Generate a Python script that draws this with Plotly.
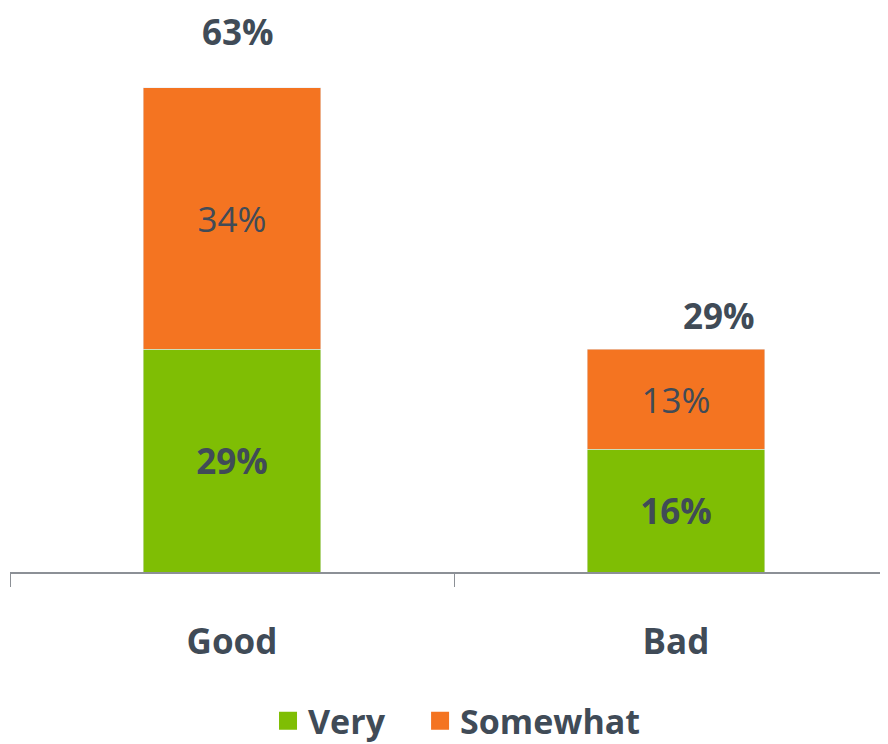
import plotly.graph_objects as go

categories = ["Good", "Bad"]
very = [29, 16]
somewhat = [34, 13]
totals = [63, 29]
series_names = ["Very", "Somewhat"]

TXT = "#404b57"
GREEN = "#7fbe04"
ORANGE = "#f47421"
FONT = "Open Sans"
FS = 35

fig = go.Figure()
fig.add_trace(go.Bar(
    x=categories, y=very, name=series_names[0], marker_color=GREEN,
    text=[f"<b>{v}%</b>" for v in very], textposition="inside",
    insidetextanchor="middle", textangle=0, showlegend=False,
    textfont=dict(family=FONT, size=FS, color=TXT), width=0.4,
))
fig.add_trace(go.Bar(
    x=categories, y=somewhat, name=series_names[1], marker_color=ORANGE,
    text=[f"{v}%" for v in somewhat], textposition="inside",
    insidetextanchor="middle", textangle=0, showlegend=False,
    textfont=dict(family=FONT, size=FS, color=TXT), width=0.4,
))
# legend entries with larger square swatches, one legend per entry for spacing
for name, col, lg in zip(series_names, [GREEN, ORANGE], ["legend", "legend2"]):
    fig.add_trace(go.Scatter(
        x=[None], y=[None], mode="markers", name=f"<b>{name}</b>",
        marker=dict(symbol="square", size=20, color=col, line=dict(color=col, width=2)),
        showlegend=True, legend=lg,
    ))

shifts = [(6, 56), (43, 34)]
for c, t, (dx, dy) in zip(categories, totals, shifts):
    fig.add_annotation(x=c, y=t, text=f"<b>{t}%</b>", showarrow=False,
                       xshift=dx, yshift=dy, yanchor="middle", borderpad=0,
                       font=dict(family=FONT, size=FS, color=TXT))

leg_common = dict(orientation="h", xanchor="left", yref="container", y=0.0416,
                  yanchor="middle",
                  font=dict(family=FONT, size=FS - 1, color=TXT), itemwidth=30,
                  bgcolor="rgba(0,0,0,0)")

fig.update_layout(
    width=888, height=744, barmode="stack",
    paper_bgcolor="white", plot_bgcolor="white",
    margin=dict(l=2, r=6, t=26, b=180),
    font=dict(family=FONT, color=TXT),
    uniformtext=dict(minsize=FS, mode="show"),
    xaxis=dict(range=[-0.5, 1.482], showline=True, linecolor="#8c9096", linewidth=2,
               ticks="outside", tickson="boundaries", ticklen=13, tickcolor="#8c9096",
               tickwidth=1, ticklabelstandoff=38,
               tickvals=categories, ticktext=[f"<b>{c}</b>" for c in categories],
               tickfont=dict(family=FONT, size=FS, color=TXT), showgrid=False),
    yaxis=dict(range=[0, 70], visible=False, showgrid=False),
    legend=dict(x=0.2932, **leg_common),
    legend2=dict(x=0.466, **leg_common),
    showlegend=True,
)

fig.write_html("out.html")
